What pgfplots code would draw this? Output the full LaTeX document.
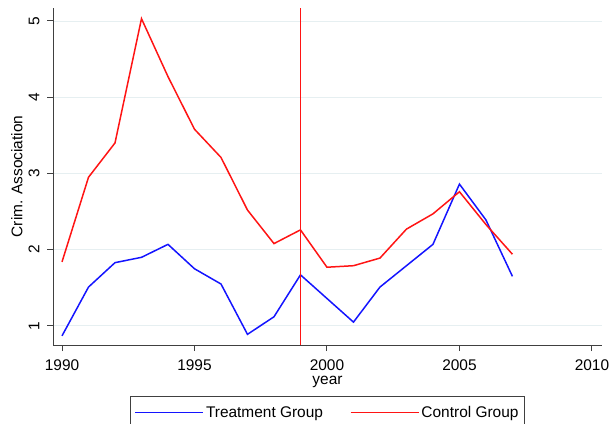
\documentclass[border=0pt]{standalone}
\usepackage{pgfplots}
\pgfplotsset{compat=1.18}
\usepackage{fontspec}
\setmainfont{Liberation Sans}
\definecolor{gridc}{RGB}{230,239,241}
\definecolor{sblue}{RGB}{20,20,255}
\definecolor{sred}{RGB}{255,20,20}
\newcommand{\bigf}{\fontsize{15.5}{18}\selectfont}
\begin{document}
\begin{tikzpicture}
\path[use as bounding box] (0,0) rectangle (610bp,424bp);
\begin{axis}[
  at={(53bp,79bp)}, anchor=south west,
  scale only axis, width=549bp, height=337bp,
  xmin=1989.66, xmax=2010.38, ymin=0.75, ymax=5.17,
  axis x line*=bottom, axis y line*=left,
  axis line style={line width=1pt, color=black!75, -},
  xtick={1990,1995,2000,2005,2010},
  xticklabels={{\bigf 1990},{\bigf 1995},{\bigf 2000},{\bigf 2005},{\bigf 2010}},
  ytick={1,2,3,4,5},
  yticklabels={{\bigf 1},{\bigf 2},{\bigf 3},{\bigf 4},{\bigf 5}},
  tick align=outside, major tick length=6bp,
  tick style={line width=1pt, color=black!75},
  ymajorgrids, grid style={gridc, line width=0.9pt},
  font=\bigf,
  tick label style={font=\bigf},
  xticklabel shift={5bp},
  yticklabel shift={4bp},
  yticklabel style={rotate=90, anchor=south},
  xlabel={year},
  ylabel={Crim. Association},
  every axis x label/.style={at={(axis description cs:0.5,-0.083)}, anchor=north, font=\bigf},
  every axis y label/.style={at={(axis description cs:-0.0492,0.5)}, rotate=90, anchor=south, font=\bigf},
  legend columns=2,
  legend style={at={(0.5,-0.151)}, anchor=north, draw=black!75, line width=1pt,
    font=\bigf, inner xsep=4bp, inner ysep=8bp,
    /tikz/every even column/.append style={column sep=25bp}},
  legend image code/.code={\draw[#1] (0bp,0bp) -- (60bp,0bp); \path (0bp,0bp) -- (68bp,0bp);},
  legend cell align=left,
]
\addplot[sblue, line width=1.5pt] coordinates {
(1990,0.87) (1991,1.51) (1992,1.83) (1993,1.90) (1994,2.07) (1995,1.75)
(1996,1.55) (1997,0.89) (1998,1.12) (1999,1.67) (2000,1.36) (2001,1.05)
(2002,1.51) (2003,1.79) (2004,2.07) (2005,2.86) (2006,2.39) (2007,1.65)};
\addlegendentry{Treatment Group}
\addplot[sred, line width=1.5pt] coordinates {
(1990,1.84) (1991,2.95) (1992,3.40) (1993,5.03) (1994,4.27) (1995,3.58)
(1996,3.21) (1997,2.52) (1998,2.08) (1999,2.26) (2000,1.77) (2001,1.79)
(2002,1.89) (2003,2.27) (2004,2.47) (2005,2.76) (2006,2.33) (2007,1.94)};
\addlegendentry{Control Group\hspace{12bp}}
\addplot[sred, line width=1.5pt, forget plot] coordinates {(1999,0.75) (1999,5.17)};
\end{axis}
\end{tikzpicture}
\end{document}
